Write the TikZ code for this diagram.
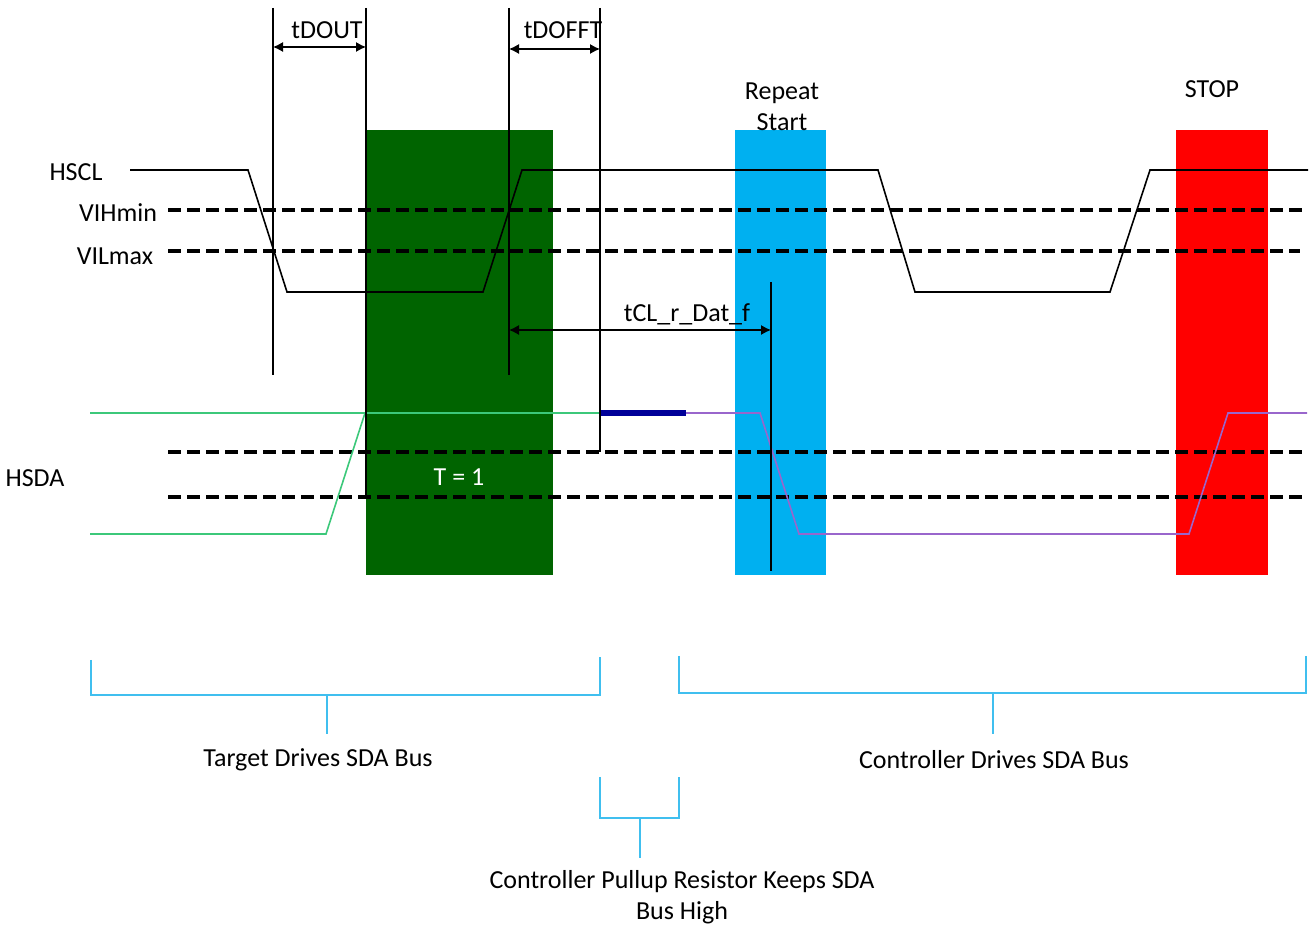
\documentclass[tikz,border=0pt]{standalone}
\usepackage{fontspec}
\setmainfont{Carlito}
\usepackage{tikz}
\usetikzlibrary{arrows.meta, positioning}

\definecolor{tgreen}{HTML}{006400}
\definecolor{rsblue}{HTML}{00B0F0}
\definecolor{stopred}{HTML}{FF0000}
\definecolor{sdagreen}{HTML}{3CC87A}
\definecolor{sdapurple}{HTML}{9966CC}
\definecolor{pullblue}{HTML}{000099}
\definecolor{brblue}{HTML}{40BFEF}

\begin{document}
\begin{tikzpicture}[x=0.5pt, y=-0.5pt,
    font=\fontsize{13}{15.5}\selectfont,
    sig/.style={line width=0.8pt},
    level/.style={line width=1.8pt, dash pattern=on 6.5pt off 3pt},
    vline/.style={line width=0.6pt},
    dim/.style={{Latex[length=5pt,width=5pt]}-{Latex[length=5pt,width=5pt]}, line width=0.6pt},
    bracket/.style={brblue, line width=1pt},
    stem/.style={brblue, line width=0.6pt}]
    \useasboundingbox (0,0) rectangle (1314,929);
    % bus phases
    \fill[tgreen] (366,130) rectangle (553,575);
    \fill[rsblue] (735,130) rectangle (826,575);
    \fill[stopred] (1176,130) rectangle (1268,575);
    \node[text=white] (t1) at (459,477) {T = 1};
    \node (rs) at (782,107) [align=center] {Repeat\\Start};
    \node (stop) at (1212,89) {STOP};
    % signal names
    \node (hscl) at (76,172) {HSCL};
    \node (vih) at (118,213) {VIHmin};
    \node (vil) at (115,256) {VILmax};
    \node (hsda) at (35,478) {HSDA};
    % threshold levels
    \draw[level] (168,210) -- (1308,210);
    \draw[level] (168,251) -- (1300,251);
    \draw[level] (168,452) -- (1308,452);
    \draw[level] (168,497) -- (1308,497);
    % HSCL
    \draw[sig] (130,170) -- (248,170) -- (287,292) -- (483,292) -- (522,170)
        -- (878,170) -- (915,292) -- (1110,292) -- (1150,170) -- (1308,170);
    % HSDA
    \draw[sig, sdagreen] (90,534) -- (326,534) -- (365,413);
    \draw[sig, sdagreen] (90,413) -- (600,413);
    \draw[pullblue, line width=3pt] (600,413) -- (686,413);
    \draw[sig, sdapurple] (686,413) -- (760,413) -- (799,534) -- (1189,534)
        -- (1228,413) -- (1307,413);
    % timing marks
    \coordinate (a1) at (273,8);
    \coordinate (a2) at (366,8);
    \coordinate (b1) at (509,8);
    \coordinate (b2) at (600,8);
    \coordinate (c2) at (771,282);
    \draw[vline] (a1) -- (273,375);
    \draw[vline] (a2) -- (366,497);
    \draw[vline] (b1) -- (509,375);
    \draw[vline] (b2) -- (600,452);
    \draw[vline] (c2) -- (771,571);
    \draw[dim] (273,47) -- (366,47);
    \draw[dim] (509,49) -- (600,49);
    \draw[dim] (509,330) -- (771,330);
    \node (tdout) at (327,30) {tDOUT};
    \node (tdofft) at (563,30) {tDOFFT};
    \node (tcl) at (687,314) {tCL\_r\_Dat\_f};
    % who drives SDA
    \draw[bracket] (91,660) -- (91,695) -- (600,695) -- (600,657);
    \draw[stem] (327,695) -- (327,734);
    \node (tgt) at (318,760) {Target Drives SDA Bus};
    \draw[bracket] (679,656) -- (679,693) -- (1306,693) -- (1306,656);
    \draw[stem] (993,693) -- (993,734);
    \node (ctl) at (994,760) {Controller Drives SDA Bus};
    \draw[bracket] (600,777) -- (600,818) -- (679,818) -- (679,777);
    \draw[stem] (640,818) -- (640,858);
    \node (pull) at (682,897) [align=center] {Controller Pullup Resistor Keeps SDA\\Bus High};
\end{tikzpicture}
\end{document}
